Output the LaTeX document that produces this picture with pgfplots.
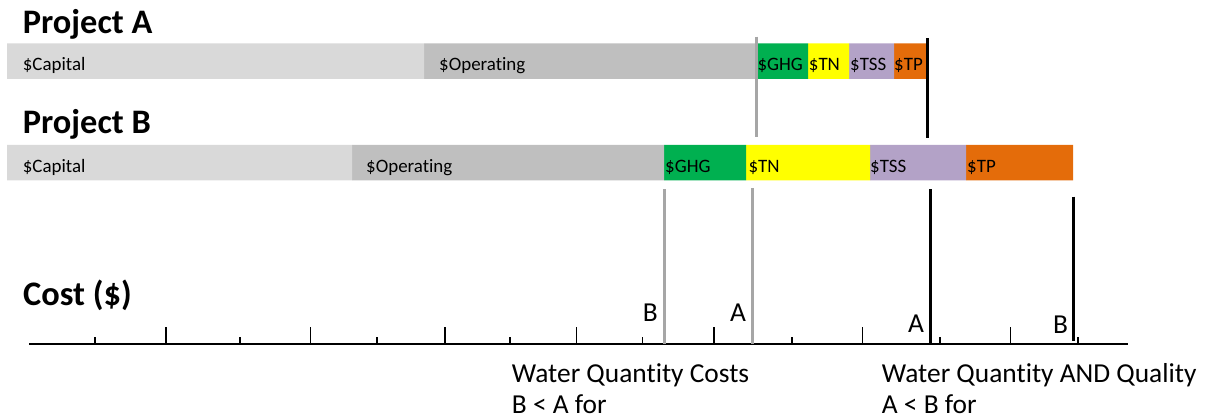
\documentclass[border=0pt]{standalone}
\usepackage{pgfplots}
\pgfplotsset{compat=1.18}
\usepackage{fontspec}
\setmainfont{Carlito}[Ligatures=NoCommon]
\definecolor{capc}{HTML}{D9D9D9}
\definecolor{opc}{HTML}{BFBFBF}
\definecolor{ghgc}{HTML}{00B050}
\definecolor{tnc}{HTML}{FFFF00}
\definecolor{tssc}{HTML}{B3A2C7}
\definecolor{tpc}{HTML}{E46C0A}
\definecolor{linegray}{HTML}{A6A6A6}
\newcommand{\barfont}{\fontsize{19}{19}\selectfont}
\newcommand{\titlefont}{\fontsize{34.5}{34.5}\selectfont\bfseries}
\newcommand{\notefont}{\fontsize{27.5}{27.5}\selectfont}
\tikzset{lbl/.style={anchor=base west, inner sep=0}}
\pgfplotsset{frame/.style={
  at={(0,0)}, anchor=south west,
  scale only axis, width=1207bp, height=420bp,
  xmin=-7, xmax=1200, ymin=0, ymax=420, y dir=reverse,
  axis line style={draw=none}, ticks=none,
  clip=false}}
\begin{document}
\begin{tikzpicture}
% ---------- bars (x = cost units, y = vertical position) ----------
\begin{axis}[frame, xbar stacked, bar width=35.5]
% Project A at y=61.2, Project B at y=162.5
\addplot[fill=capc, draw=none] coordinates {(417,61.2) (345,162.5)};
\addplot[fill=opc,  draw=none] coordinates {(331,61.2) (312,162.5)};
\addplot[fill=ghgc, draw=none] coordinates {(53,61.2)  (82,162.5)};
\addplot[fill=tnc,  draw=none] coordinates {(41,61.2)  (124,162.5)};
\addplot[fill=tssc, draw=none] coordinates {(45,61.2)  (96,162.5)};
\addplot[fill=tpc,  draw=none] coordinates {(32,61.2)  (107,162.5)};
\end{axis}
% ---------- cost axis with markers ----------
\begin{axis}[
  at={(29bp,76bp)}, anchor=south west,
  scale only axis, width=1099bp, height=344bp,
  xmin=22, xmax=1121, ymin=0, ymax=344,
  clip=false,
  axis y line=none,
  axis x line*=bottom,
  x axis line style={-, line width=1.8bp, black},
  xtick={159,303.7,438,569.7,707,855.7,1003.7},
  minor xtick={88,233,370,503,635.7,785,933,1071},
  xticklabels={},
  tick align=inside,
  major tick length=17bp,
  minor tick length=7bp,
  every tick/.style={black, line width=1.4bp},
]
\addplot[linegray, line width=3bp] coordinates {(749,307.3) (749,207.3)};
\addplot[black, line width=3bp] coordinates {(920,305.7) (920,205.7)};
\addplot[linegray, line width=3bp] coordinates {(657.3,154.7) (657.3,0)};
\addplot[linegray, line width=3bp] coordinates {(745.7,156) (745.7,0)};
\addplot[black, line width=3bp] coordinates {(923,154.7) (923,0)};
\addplot[black, line width=3bp] coordinates {(1066,147.3) (1066,3.3)};
\end{axis}
% ---------- texts ----------
\begin{axis}[frame]
% titles
\node[lbl, font=\titlefont] at (axis cs:15.7,33.3) {Project A};
\node[lbl, font=\titlefont] at (axis cs:15.7,133.3) {Project B};
\node[lbl, font=\titlefont] at (axis cs:16,305) {Cost (\$)};
% bar labels A
\node[lbl, font=\barfont] at (axis cs:15.7,70.7) {\$Capital};
\node[lbl, font=\barfont] at (axis cs:432,70.7) {\$Operating};
\node[lbl, font=\barfont] at (axis cs:750.3,70.7) {\$GHG};
\node[lbl, font=\barfont] at (axis cs:801.7,70.7) {\$TN};
\node[lbl, font=\barfont] at (axis cs:843,70.7) {\$TSS};
\node[lbl, font=\barfont] at (axis cs:887,70.7) {\$TP};
% bar labels B
\node[lbl, font=\barfont] at (axis cs:15.7,172) {\$Capital};
\node[lbl, font=\barfont] at (axis cs:359,172) {\$Operating};
\node[lbl, font=\barfont] at (axis cs:658,172) {\$GHG};
\node[lbl, font=\barfont] at (axis cs:741.3,172) {\$TN};
\node[lbl, font=\barfont] at (axis cs:863,172) {\$TSS};
\node[lbl, font=\barfont] at (axis cs:960,172) {\$TP};
% letters near axis
\node[lbl, font=\notefont] at (axis cs:635.7,321) {B};
\node[lbl, font=\notefont] at (axis cs:723,321) {A};
\node[lbl, font=\notefont] at (axis cs:901,332.7) {A};
\node[lbl, font=\notefont] at (axis cs:1046,333.3) {B};
% notes
\node[lbl, font=\notefont] at (axis cs:504.7,382.7) {Water Quantity Costs};
\node[lbl, font=\notefont] at (axis cs:504.7,413.5) {B < A for};
\node[lbl, font=\notefont] at (axis cs:874.7,382.7) {Water Quantity AND Quality};
\node[lbl, font=\notefont] at (axis cs:874.7,413.5) {A < B for};
\end{axis}
\end{tikzpicture}
\end{document}
